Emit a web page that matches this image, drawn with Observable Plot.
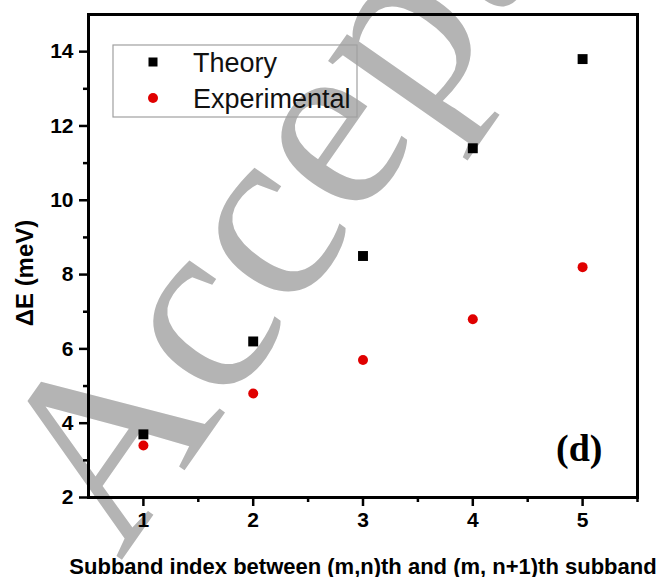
<!DOCTYPE html>
<html><head><meta charset="utf-8">
<script src="https://cdn.jsdelivr.net/npm/d3@7"></script>
<script src="https://cdn.jsdelivr.net/npm/@observablehq/plot@0.6"></script>
<style>body{margin:0;background:#fff}#chart{width:656px;height:577px}</style>
</head><body><div id="chart"></div>
<script>
const subband = [1, 2, 3, 4, 5];
const theory = [3.7, 6.2, 8.5, 11.4, 13.8];
const experimental = [3.4, 4.8, 5.7, 6.8, 8.2];
const xMajorTicks = [1, 2, 3, 4, 5];
const xMinorTicks = [1.5, 2.5, 3.5, 4.5, 5.5];
const yMajorTicks = [2, 4, 6, 8, 10, 12, 14];
const yMinorTicks = [3, 5, 7, 9, 11, 13];
const seriesNames = ["Theory", "Experimental"];
const seriesColors = ["#000000", "#e00000"];
const xTitle = "Subband index between (m,n)th and (m, n+1)th subband";
const yTitle = "\u0394E (meV)";
const panelLabel = "(d)";
const watermark = "Accepted";

const rows = subband.flatMap((s, i) => [
  {x: s, y: theory[i], series: seriesNames[0]},
  {x: s, y: experimental[i], series: seriesNames[1]}
]);

const hasAxis = typeof Plot.axisX === "function";
const axisFont = {fontSize: 21, fontWeight: "bold", fontFamily: "Liberation Sans"};

const axisMarks = hasAxis ? [
  Plot.axisX(xMajorTicks, {tickSize: 9, tickPadding: 6, strokeWidth: 2.5, label: null, ...axisFont}),
  Plot.axisX(xMinorTicks, {tickSize: 5, strokeWidth: 2.5, tickFormat: () => "", label: null}),
  Plot.axisY(yMajorTicks, {tickSize: 9, tickPadding: 6, strokeWidth: 2.5, label: null, ...axisFont}),
  Plot.axisY(yMinorTicks, {tickSize: 5, strokeWidth: 2.5, tickFormat: () => "", label: null})
] : [];

const chart = Plot.plot({
  width: 656,
  height: 577,
  marginLeft: 88,
  marginRight: 19,
  marginTop: 14,
  marginBottom: 80,
  style: {fontFamily: "Liberation Sans", fontSize: "21px", fontWeight: "bold", background: "white", color: "black"},
  x: {domain: [0.5, 5.5], ticks: xMajorTicks, tickSize: 9, label: null},
  y: {domain: [2, 15], ticks: yMajorTicks, tickSize: 9, label: null},
  marks: [
    Plot.text([watermark], {text: d => d, frameAnchor: "top-left", dx: 308, dy: 153, rotate: -55,
      fontSize: 255, fontFamily: "Liberation Serif", fontWeight: "normal", fill: "#b4b4b4",
      textAnchor: "middle", lineAnchor: "bottom"}),
    ...axisMarks,
    Plot.frame({stroke: "black", strokeWidth: 3}),
    Plot.dot(rows.filter(d => d.series === seriesNames[0]), {x: "x", y: "y", symbol: "square", r: 5.6, fill: seriesColors[0], stroke: "none"}),
    Plot.dot(rows.filter(d => d.series === seriesNames[1]), {x: "x", y: "y", symbol: "circle", r: 5, fill: seriesColors[1], stroke: "none"}),
    Plot.text([panelLabel], {text: d => d, frameAnchor: "bottom-right", dx: -35, dy: -37, textAnchor: "end", lineAnchor: "bottom",
      fontSize: 38, fontFamily: "Liberation Serif", fontWeight: "bold"}),
    Plot.text([yTitle], {text: d => d, frameAnchor: "left", dx: -63, dy: 17, rotate: -90, textAnchor: "middle",
      fontSize: 24, fontWeight: "bold", fontFamily: "Liberation Sans"}),
    Plot.text([xTitle], {text: d => d, frameAnchor: "bottom", dx: 0, dy: 76, textAnchor: "middle", lineAnchor: "bottom",
      fontSize: 22, fontWeight: "bold", fontFamily: "Liberation Sans"})
  ]
});

document.getElementById("chart").appendChild(chart);

// in-plot legend
const svg = d3.select(chart);
const lg = svg.append("g").attr("font-family", "Liberation Sans").attr("font-size", 27)
  .attr("font-weight", "normal").attr("text-anchor", "start");
lg.append("rect").attr("x", 113).attr("y", 45).attr("width", 244).attr("height", 72)
  .attr("fill", "none").attr("stroke", "#a0a0a0").attr("stroke-width", 1.2);
lg.append("rect").attr("x", 148.5).attr("y", 57.5).attr("width", 9).attr("height", 9).attr("fill", seriesColors[0]);
lg.append("circle").attr("cx", 153).attr("cy", 98).attr("r", 5).attr("fill", seriesColors[1]);
lg.append("text").attr("x", 193).attr("y", 72).attr("fill", "#111").text(seriesNames[0]);
lg.append("text").attr("x", 193).attr("y", 108).attr("fill", "#111").text(seriesNames[1]);
</script>
</body></html>
